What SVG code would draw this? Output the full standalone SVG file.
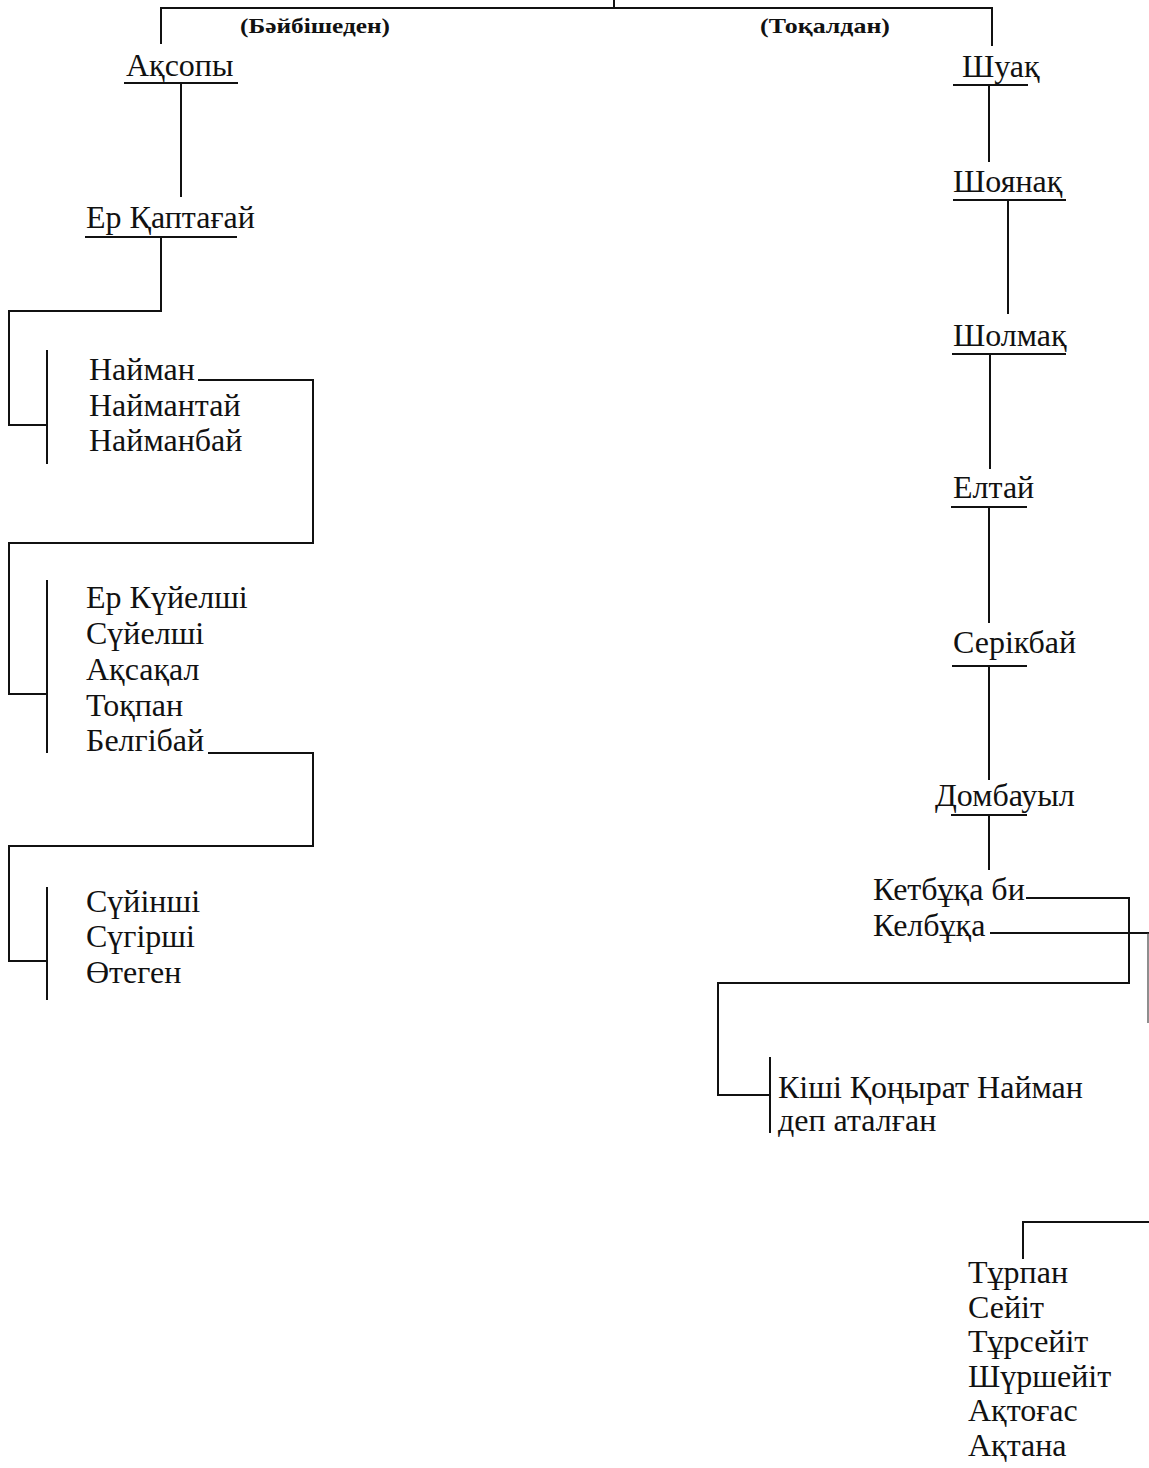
<svg xmlns="http://www.w3.org/2000/svg" width="1149" height="1468" viewBox="0 0 1149 1468">
<style>
text{font-family:"Liberation Serif","Times New Roman",serif;fill:#111}
.n{font-size:32px}
.lbl{font-size:22px;font-weight:bold}
.ln{stroke:#111;stroke-width:2;fill:none}
.thin{stroke:#444;stroke-width:1.2;fill:none}
</style>
<rect width="1149" height="1468" fill="#fff"/>
<g id="connectors">
<path class="ln" d="M614,0V8M161,44V8H992V46"/>
<path class="ln" d="M181,84V197"/>
<path class="ln" d="M161,237V311H9V425H47M47,350V464"/>
<path class="ln" d="M198,380H313V543H9V694H47M47,580V753"/>
<path class="ln" d="M208,753H313V846H9V961H47M47,887V1000"/>
<path class="ln" d="M989,85V162"/>
<path class="ln" d="M1008,200V314"/>
<path class="ln" d="M990,354V469"/>
<path class="ln" d="M989,507V623"/>
<path class="ln" d="M989,666V780"/>
<path class="ln" d="M989,815V870"/>
<path class="ln" d="M1026,898H1129V983H718V1095H770M770,1057V1133"/>
<path class="ln" d="M990,933H1149"/>
<path class="thin" d="M1148,933V1023"/>
<path class="ln" d="M1149,1222H1023V1259"/>
</g>
<g id="label-baibishe"><text class="lbl" x="240" y="33" textLength="150" lengthAdjust="spacingAndGlyphs">(Бәйбішеден)</text></g>
<g id="label-tokal"><text class="lbl" x="760" y="33" textLength="130" lengthAdjust="spacingAndGlyphs">(Тоқалдан)</text></g>
<g id="n-aksopy"><text class="n" x="126" y="76">Ақсопы</text><path class="ln" d="M124,83H238"/></g>
<g id="n-er-kaptagai"><text class="n" x="86" y="228">Ер Қаптағай</text><path class="ln" d="M85,237H237"/></g>
<g id="n-naiman-group">
<text class="n" x="89" y="380">Найман</text>
<text class="n" x="89" y="416">Наймантай</text>
<text class="n" x="89" y="451">Найманбай</text>
</g>
<g id="n-kuielshi-group">
<text class="n" x="86" y="608">Ер Күйелші</text>
<text class="n" x="86" y="644">Сүйелші</text>
<text class="n" x="86" y="680">Ақсақал</text>
<text class="n" x="86" y="716">Тоқпан</text>
<text class="n" x="86" y="751">Белгібай</text>
</g>
<g id="n-suinshi-group">
<text class="n" x="86" y="912">Сүйінші</text>
<text class="n" x="86" y="947">Сүгірші</text>
<text class="n" x="86" y="983">Өтеген</text>
</g>
<g id="n-shuak"><text class="n" x="962" y="77">Шуақ</text><path class="ln" d="M953,85H1028"/></g>
<g id="n-shoianak"><text class="n" x="953" y="192">Шоянақ</text><path class="ln" d="M953,200H1066"/></g>
<g id="n-sholmak"><text class="n" x="953" y="346">Шолмақ</text><path class="ln" d="M952,354H1066"/></g>
<g id="n-eltai"><text class="n" x="953" y="498">Елтай</text><path class="ln" d="M951,507H1027"/></g>
<g id="n-serikbai"><text class="n" x="953" y="653">Серікбай</text><path class="ln" d="M952,666H1027"/></g>
<g id="n-dombauyl"><text class="n" x="935" y="806">Домбауыл</text><path class="ln" d="M951,815H1027"/></g>
<g id="n-ketbuka"><text class="n" x="873" y="900">Кетбұқа би</text></g>
<g id="n-kelbuka"><text class="n" x="873" y="936">Келбұқа</text></g>
<g id="n-kishi-konyrat">
<text class="n" x="778" y="1098">Кіші Қоңырат Найман</text>
<text class="n" x="778" y="1131">деп аталған</text>
</g>
<g id="n-turpan-group">
<text class="n" x="968" y="1283">Тұрпан</text>
<text class="n" x="968" y="1318">Сейіт</text>
<text class="n" x="968" y="1352">Тұрсейіт</text>
<text class="n" x="968" y="1387">Шүршейіт</text>
<text class="n" x="968" y="1421">Ақтоғас</text>
<text class="n" x="968" y="1456">Ақтана</text>
</g>
</svg>
